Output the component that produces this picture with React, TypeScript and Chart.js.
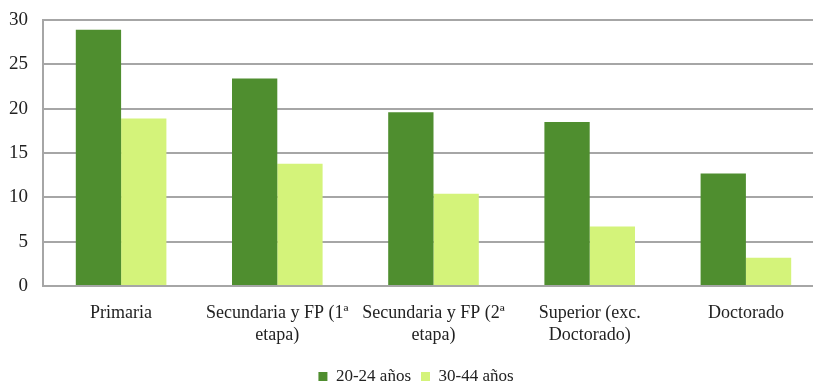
import React, { useEffect, useRef } from "react";
import { Chart, registerables } from "chart.js";

Chart.register(...registerables);

const categories: (string | string[])[] = [
  "Primaria",
  ["Secundaria y FP (1ª", "etapa)"],
  ["Secundaria y FP (2ª", "etapa)"],
  ["Superior (exc.", "Doctorado)"],
  "Doctorado",
];
const series2024 = [28.9, 23.4, 19.6, 18.5, 12.7];
const series3044 = [18.9, 13.8, 10.4, 6.7, 3.2];
const yTicks = [0, 5, 10, 15, 20, 25, 30];

const DARK = "#4f8e2f";
const LIGHT = "#d4f37a";
const FONT = "'Liberation Serif', 'Times New Roman', serif";

export default function App() {
  const ref = useRef<HTMLCanvasElement | null>(null);
  useEffect(() => {
    if (!ref.current) return;
    const chart = new Chart(ref.current, {
      type: "bar",
      data: {
        labels: categories,
        datasets: [
          { label: "20-24 años", data: series2024, backgroundColor: DARK, borderWidth: 0 },
          { label: "30-44 años", data: series3044, backgroundColor: LIGHT, borderWidth: 0 },
        ],
      },
      options: {
        animation: false,
        responsive: true,
        maintainAspectRatio: false,
        layout: { padding: { top: 20, right: 6, left: 8, bottom: 0 } },
        datasets: { bar: { categoryPercentage: 0.58, barPercentage: 1 } },
        plugins: {
          tooltip: { enabled: false },
          legend: {
            position: "bottom",
            labels: {
              boxWidth: 9,
              boxHeight: 9,
              padding: 10,
              color: "#222",
              font: { family: FONT, size: 17 },
            },
          },
        },
        scales: {
          x: {
            grid: { display: false, drawTicks: false },
            border: { display: true, color: "#a6a6a6", width: 2 },
            afterFit: (scale: any) => {
              scale.height = 72;
              scale.paddingLeft = 0;
              scale.paddingRight = 0;
            },
            ticks: {
              color: "#222",
              maxRotation: 0,
              autoSkip: false,
              padding: 16,
              font: { family: FONT, size: 18, lineHeight: 1.22 },
            },
          },
          y: {
            min: 0,
            max: 30,
            afterBuildTicks: (axis: any) => {
              axis.ticks = yTicks.map((v) => ({ value: v }));
            },
            afterFit: (scale: any) => {
              scale.width = 35;
              scale.paddingTop = 0;
              scale.paddingBottom = 0;
            },
            grid: { color: "#a6a6a6", lineWidth: 2, drawTicks: false },
            border: { display: true, color: "#a6a6a6", width: 2 },
            ticks: {
              color: "#222",
              padding: 15,
              font: { family: FONT, size: 19 },
            },
          },
        },
      },
    });
    return () => chart.destroy();
  }, []);
  return (
    <div style={{ position: "fixed", left: 0, top: 0, width: 813, height: 385, overflow: "hidden", background: "#fff" }}>
      <div style={{ position: "absolute", left: 0, top: 0, width: 830, height: 395 }}>
        <canvas ref={ref} />
      </div>
    </div>
  );
}
